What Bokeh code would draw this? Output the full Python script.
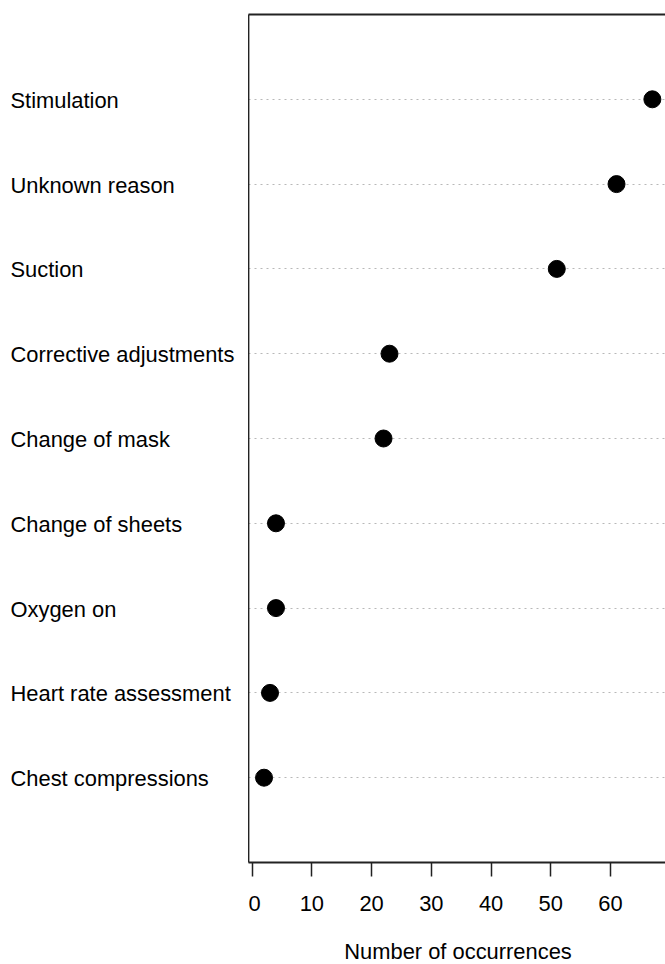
from bokeh.plotting import figure
from bokeh.layouts import row, column
from bokeh.models import (ColumnDataSource, LinearAxis, FixedTicker, Range1d)
from bokeh.core.properties import value
from bokeh.embed import file_html
from bokeh.resources import INLINE

categories = ["Chest compressions", "Heart rate assessment", "Oxygen on",
              "Change of sheets", "Change of mask", "Corrective adjustments",
              "Suction", "Unknown reason", "Stimulation"]
values = [2, 3, 4, 4, 22, 23, 51, 61, 67]
x_ticks = [0, 10, 20, 30, 40, 50, 60]
x_title = "Number of occurrences"

FONT = "Liberation Sans"
FS = "21.9px"
W = 665
STRIP = 40
H = 964 - STRIP
TOP = 14
BOTTOM = 102 - STRIP
LEFT_W = 248
BOX = "#222222"
BOX_W = 1.8
X_LO, X_HI = -0.6, 69.2

rows = list(range(1, len(categories) + 1))
src = ColumnDataSource(dict(cat=categories, val=values, row=rows,
                            lx=[10] * len(categories)))

def bare(fig):
    fig.outline_line_color = None
    fig.xgrid.grid_line_color = None
    fig.ygrid.grid_line_color = None
    return fig

# left panel holding the category labels
lp = bare(figure(width=LEFT_W, height=H, output_backend="svg", toolbar_location=None,
                 x_range=Range1d(0, LEFT_W), y_range=Range1d(0, len(categories) + 1),
                 min_border_left=0, min_border_right=0, min_border_top=TOP,
                 min_border_bottom=BOTTOM, x_axis_location=None, y_axis_location=None))
lp.text("lx", "row", text="cat", source=src, text_align="left",
        text_baseline="middle", text_font=value(FONT), text_font_size=FS,
        text_color="black", y_offset=1)

# main dot panel
p = figure(width=W - LEFT_W, height=H, output_backend="svg", toolbar_location=None,
           x_range=Range1d(X_LO, X_HI), y_range=Range1d(0, len(categories) + 1),
           min_border_left=0, min_border_right=0, min_border_top=TOP,
           min_border_bottom=BOTTOM, x_axis_location=None, y_axis_location=None)
p.outline_line_color = None
p.xgrid.grid_line_color = None

xa = LinearAxis(ticker=FixedTicker(ticks=x_ticks))
xa.axis_line_color = BOX
xa.axis_line_width = BOX_W
xa.major_tick_line_color = BOX
xa.major_tick_line_width = 1.5
xa.major_tick_out = 14
xa.major_tick_in = 0
xa.minor_tick_line_color = None
xa.major_label_text_font = FONT
xa.major_label_text_font_size = FS
xa.major_label_text_color = "black"
xa.major_label_standoff = 19
p.add_layout(xa, "below")

ya = LinearAxis(ticker=FixedTicker(ticks=rows),
                major_label_overrides={r: "" for r in rows})
ya.axis_line_color = BOX
ya.axis_line_width = BOX_W
ya.major_tick_line_color = None
ya.minor_tick_line_color = None
ya.major_label_standoff = 0
ya.major_tick_out = 0
ya.major_tick_in = 0
p.add_layout(ya, "left")

ta = LinearAxis(ticker=FixedTicker(ticks=[]))
ta.axis_line_color = BOX
ta.axis_line_width = BOX_W
ta.major_tick_line_color = None
ta.minor_tick_line_color = None
ta.major_label_standoff = 0
ta.major_tick_out = 0
ta.major_tick_in = 0
p.add_layout(ta, "above")

p.ygrid.ticker = FixedTicker(ticks=rows)
p.ygrid.grid_line_color = "#b8b8b8"
p.ygrid.grid_line_dash = "2 4"
p.ygrid.grid_line_width = 1

p.scatter("val", "row", source=src, size=17, fill_color="black",
          line_color="black", marker="circle")

# strip below holding the x-axis title, centred under the plot box
strip = bare(figure(width=W, height=STRIP, output_backend="svg", toolbar_location=None,
                    x_range=Range1d(0, W), y_range=Range1d(0, STRIP),
                    min_border=0, x_axis_location=None, y_axis_location=None))
title_src = ColumnDataSource(dict(t=[x_title], x=[LEFT_W + (W - LEFT_W + 2) / 2], y=[13.5]))
strip.text("x", "y", text="t", source=title_src, text_align="center",
           text_baseline="middle", text_font=value(FONT), text_font_size=FS,
           text_color="black")

layout = column(row(lp, p, spacing=0), strip, spacing=0)
open("out.html", "w").write(file_html(layout, INLINE))
